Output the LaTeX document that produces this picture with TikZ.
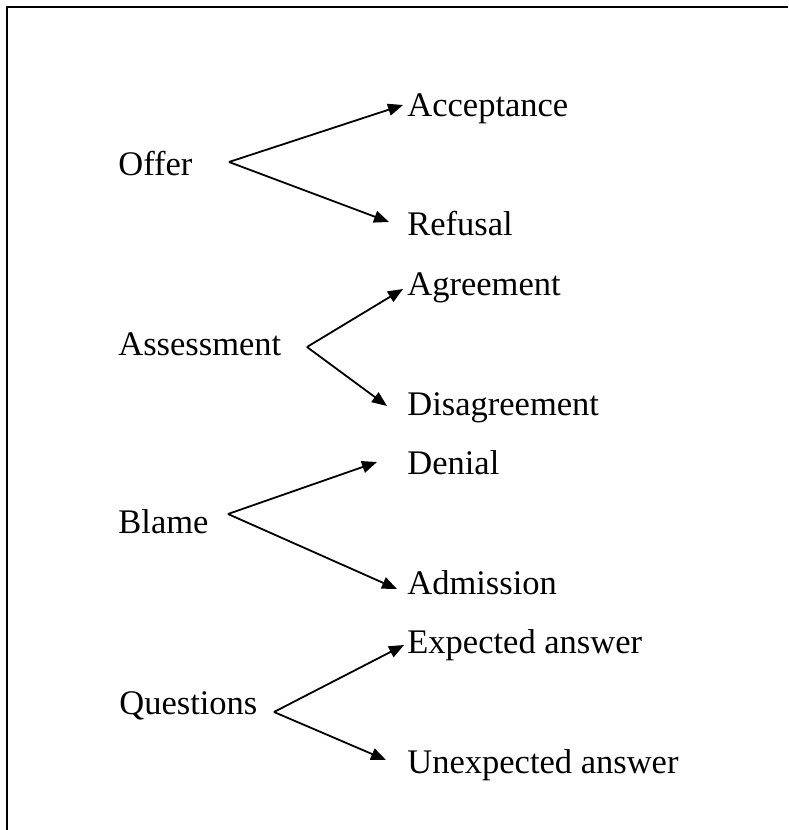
\documentclass[tikz,border=0pt]{standalone}
\usepackage{fontspec}
\setmainfont{Liberation Serif}
\usetikzlibrary{arrows.meta}
\tikzset{
  % 全局字体
  every node/.append style={font=\fontsize{17.25}{20}\selectfont},
  % 文字节点
  word/.style={inner sep=0pt, anchor=base west},
  % 箭头样式
  arr/.style={-{Triangle[length=7.5pt,width=6pt]}, line width=0.9pt},
  % 边框
  frame/.style={line width=0.9pt},
}

\begin{document}
\begin{tikzpicture}[x=0.5pt, y=-0.5pt]
        \useasboundingbox (0,0) rectangle (788,830);

        % 边框
        \draw[frame] (7,830) -- (7,7) -- (788,7);

        % Offer
        \node[word] (offer) at (118,175) {Offer};
        \node[word] (acc) at (407,116) {Acceptance};
        \node[word] (ref) at (407,235) {Refusal};
        \coordinate (offer-fork) at (229,162);
        \coordinate (acc-tip) at (403,105);
        \coordinate (ref-tip) at (389,222);
        \draw[arr] (offer-fork) -- (acc-tip);
        \draw[arr] (offer-fork) -- (ref-tip);

        % Assessment
        \node[word] (assess) at (118,355) {Assessment};
        \node[word] (agree) at (407,295) {Agreement};
        \node[word] (disagree) at (407,415) {Disagreement};
        \coordinate (assess-fork) at (307,347);
        \coordinate (agree-tip) at (403,289);
        \coordinate (disagree-tip) at (387,406);
        \draw[arr] (assess-fork) -- (agree-tip);
        \draw[arr] (assess-fork) -- (disagree-tip);

        % Blame
        \node[word] (blame) at (118,533) {Blame};
        \node[word] (deny) at (407,474) {Denial};
        \node[word] (admit) at (407,594) {Admission};
        \coordinate (blame-fork) at (228,514);
        \coordinate (deny-tip) at (377,462);
        \coordinate (admit-tip) at (397,589);
        \draw[arr] (blame-fork) -- (deny-tip);
        \draw[arr] (blame-fork) -- (admit-tip);

        % Questions
        \node[word] (quest) at (119,714) {Questions};
        \node[word] (exp) at (407,653) {Expected answer};
        \node[word] (unexp) at (407,773) {Unexpected answer};
        \coordinate (quest-fork) at (274,712);
        \coordinate (exp-tip) at (404,645);
        \coordinate (unexp-tip) at (386,760);
        \draw[arr] (quest-fork) -- (exp-tip);
        \draw[arr] (quest-fork) -- (unexp-tip);
    \end{tikzpicture}
\end{document}
